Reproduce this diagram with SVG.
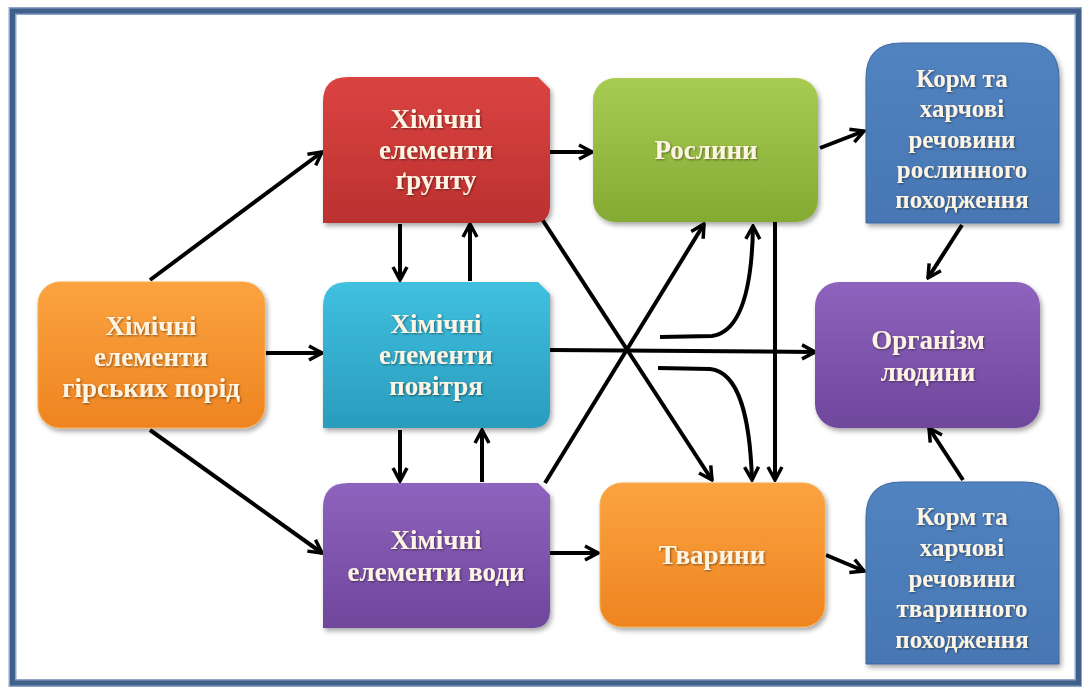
<svg xmlns="http://www.w3.org/2000/svg" width="1082" height="689" viewBox="0 0 1082 689">
<style>
.t{font-family:"Liberation Serif","Times New Roman",serif;font-weight:bold;font-size:27px;fill:#fdf4e3;text-anchor:middle;filter:url(#ts)}
.s{font-size:25px}
.c{fill:none;stroke:#000;stroke-width:4;marker-end:url(#a)}
</style>
<defs>
<filter id="sh" x="-10%" y="-10%" width="125%" height="125%"><feDropShadow dx="2" dy="3" stdDeviation="2.5" flood-color="#000" flood-opacity="0.35"/></filter>
<filter id="ts" x="-5%" y="-20%" width="110%" height="150%"><feDropShadow dx="1" dy="1" stdDeviation="0.8" flood-color="#000" flood-opacity="0.45"/></filter>
<marker id="a" viewBox="0 0 18 18" refX="16" refY="9" markerWidth="18" markerHeight="18" markerUnits="userSpaceOnUse" orient="auto"><path d="M3,2 L16,9 L3,16" fill="none" stroke="#000" stroke-width="3.5" stroke-linejoin="miter"/></marker>
<linearGradient id="gO" x1="0" y1="0" x2="0" y2="1"><stop offset="0" stop-color="#fba341"/><stop offset="1" stop-color="#ee8420"/></linearGradient>
<linearGradient id="gR" x1="0" y1="0" x2="0" y2="1"><stop offset="0" stop-color="#db4341"/><stop offset="1" stop-color="#bb3130"/></linearGradient>
<linearGradient id="gC" x1="0" y1="0" x2="0" y2="1"><stop offset="0" stop-color="#40c0df"/><stop offset="1" stop-color="#2a9cbd"/></linearGradient>
<linearGradient id="gP" x1="0" y1="0" x2="0" y2="1"><stop offset="0" stop-color="#8e63bd"/><stop offset="1" stop-color="#6f479c"/></linearGradient>
<linearGradient id="gG" x1="0" y1="0" x2="0" y2="1"><stop offset="0" stop-color="#a8cc52"/><stop offset="1" stop-color="#85aa33"/></linearGradient>
<linearGradient id="gB" x1="0" y1="0" x2="0" y2="1"><stop offset="0" stop-color="#5183c0"/><stop offset="1" stop-color="#4777b3"/></linearGradient>
</defs>
<rect width="1082" height="689" fill="#fff"/>
<rect x="12.5" y="11" width="1066" height="672" fill="none" stroke="#8ea6c4" stroke-width="8"/>
<rect x="12.5" y="11" width="1066" height="672" fill="none" stroke="#405f8b" stroke-width="5"/>

<g id="connectors">
<line class="c" x1="150" y1="280" x2="322" y2="152"/>
<line class="c" x1="266" y1="353" x2="322" y2="353"/>
<line class="c" x1="150" y1="430" x2="322" y2="553"/>
<line class="c" x1="400" y1="224" x2="400" y2="280"/>
<line class="c" x1="470" y1="281" x2="470" y2="224"/>
<line class="c" x1="400" y1="430" x2="400" y2="481"/>
<line class="c" x1="482" y1="482" x2="482" y2="430"/>
<line class="c" x1="550" y1="152" x2="592" y2="152"/>
<line class="c" x1="540" y1="216" x2="712" y2="480"/>
<line class="c" x1="545" y1="483" x2="704" y2="224"/>
<line class="c" x1="550" y1="350" x2="815" y2="352"/>
<path class="c" d="M660,337 L712,336 C740,332 752,290 753,226"/>
<path class="c" d="M658,368 L710,369 C740,372 750,420 752,480"/>
<line class="c" x1="775" y1="222" x2="775" y2="480"/>
<line class="c" x1="820" y1="148" x2="864" y2="131"/>
<line class="c" x1="962" y1="225" x2="928" y2="278"/>
<line class="c" x1="963" y1="480" x2="929" y2="428"/>
<line class="c" x1="826" y1="555" x2="864" y2="571"/>
<line class="c" x1="550" y1="553" x2="598" y2="553"/>
</g>

<g id="rocks">
<rect x="38" y="282" width="227" height="146" rx="22" fill="url(#gO)" stroke="#f6ae4e" stroke-width="1" filter="url(#sh)"/>
<text class="t" x="151" y="335">Хімічні</text>
<text class="t" x="151" y="366">елементи</text>
<text class="t" x="151" y="397">гірських порід</text>
</g>

<g id="soil">
<path d="M323,223 L323,102 Q323,77 348,77 L538,77 L550,89 L550,205 Q550,223 532,223 Z" fill="url(#gR)" filter="url(#sh)"/>
<text class="t" x="436" y="128">Хімічні</text>
<text class="t" x="436" y="159">елементи</text>
<text class="t" x="436" y="189">ґрунту</text>
</g>

<g id="air">
<path d="M323,428 L323,307 Q323,282 348,282 L538,282 L550,294 L550,410 Q550,428 532,428 Z" fill="url(#gC)" filter="url(#sh)"/>
<text class="t" x="436" y="333">Хімічні</text>
<text class="t" x="436" y="364">елементи</text>
<text class="t" x="436" y="395">повітря</text>
</g>

<g id="water">
<path d="M323,628 L323,508 Q323,483 348,483 L538,483 L550,495 L550,610 Q550,628 532,628 Z" fill="url(#gP)" filter="url(#sh)"/>
<text class="t" x="436" y="549">Хімічні</text>
<text class="t" x="436" y="581">елементи води</text>
</g>

<g id="plants">
<rect x="593" y="78" width="225" height="144" rx="22" fill="url(#gG)" filter="url(#sh)"/>
<text class="t" x="706" y="159">Рослини</text>
</g>

<g id="animals">
<rect x="600" y="483" width="225" height="144" rx="22" fill="url(#gO)" stroke="#f6ae4e" stroke-width="1" filter="url(#sh)"/>
<text class="t" x="712" y="564">Тварини</text>
</g>

<g id="human">
<rect x="815" y="282" width="225" height="146" rx="24" fill="url(#gP)" filter="url(#sh)"/>
<text class="t" x="928" y="349">Організм</text>
<text class="t" x="928" y="381">людини</text>
</g>

<g id="food-plant">
<path d="M866,223 L866,78 Q866,43 901,43 L1024,43 Q1059,43 1059,78 L1059,223 Z" fill="url(#gB)" stroke="#3d67a0" stroke-width="1" filter="url(#sh)"/>
<text class="t s" x="962" y="87">Корм та</text>
<text class="t s" x="962" y="117">харчові</text>
<text class="t s" x="962" y="148">речовини</text>
<text class="t s" x="962" y="178">рослинного</text>
<text class="t s" x="962" y="208">походження</text>
</g>

<g id="food-animal">
<path d="M866,664 L866,517 Q866,482 901,482 L1024,482 Q1059,482 1059,517 L1059,664 Z" fill="url(#gB)" stroke="#3d67a0" stroke-width="1" filter="url(#sh)"/>
<text class="t s" x="962" y="525">Корм та</text>
<text class="t s" x="962" y="556">харчові</text>
<text class="t s" x="962" y="587">речовини</text>
<text class="t s" x="962" y="617">тваринного</text>
<text class="t s" x="962" y="648">походження</text>
</g>
</svg>
